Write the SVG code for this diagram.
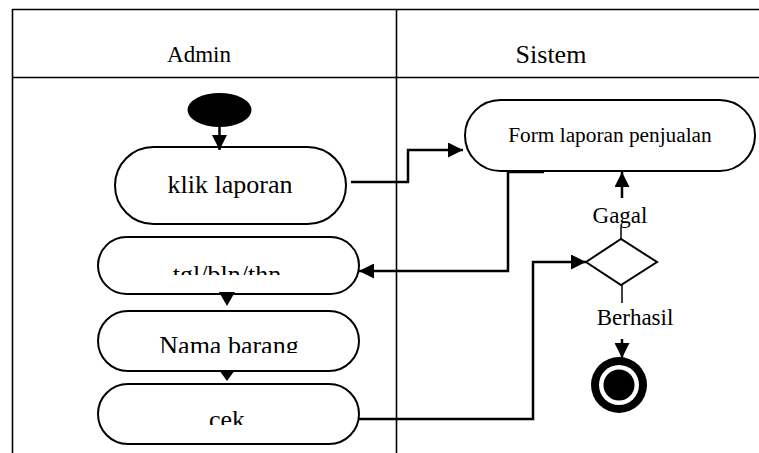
<svg xmlns="http://www.w3.org/2000/svg" width="759" height="453" viewBox="0 0 759 453">
<style>
.frame{stroke:#000;stroke-width:1.6;fill:none}
.box{fill:#fff;stroke:#000;stroke-width:2}
.conn{fill:none;stroke:#000;stroke-width:2.5}
.t{font-family:"Liberation Serif","Times New Roman",serif;fill:#000;text-anchor:middle}
</style>
<defs>
<marker id="arr" viewBox="0 0 10 10" refX="10" refY="5" markerWidth="6" markerHeight="6" markerUnits="strokeWidth" orient="auto">
<path d="M0,0 L10,5 L0,10 z" fill="#000"/>
</marker>
<clipPath id="c1"><rect x="98" y="237" width="261" height="38"/></clipPath>
<clipPath id="c2"><rect x="98" y="311" width="261" height="42"/></clipPath>
<clipPath id="c3"><rect x="98" y="384" width="261" height="41"/></clipPath>
</defs>
<rect width="759" height="453" fill="#fff"/>
<g id="frame">
<line class="frame" x1="12" y1="9.5" x2="759" y2="9.5"/>
<line class="frame" x1="12" y1="77.5" x2="759" y2="77.5"/>
<line class="frame" x1="12.5" y1="9" x2="12.5" y2="453"/>
<line class="frame" x1="396.5" y1="9" x2="396.5" y2="453"/>
<text class="t" x="199" y="62" font-size="23">Admin</text>
<text class="t" x="551" y="63" font-size="26">Sistem</text>
</g>
<g id="start"><ellipse cx="219.5" cy="110" rx="32" ry="17" fill="#000"/></g>
<g id="klik-laporan">
<rect class="box" x="115" y="147" width="231" height="77" rx="38.5"/>
<text class="t" x="230" y="193" font-size="26">klik laporan</text>
</g>
<g id="tgl">
<rect class="box" x="98" y="237" width="261" height="57" rx="28.5"/>
<text class="t" x="227" y="283" font-size="26" clip-path="url(#c1)">tgl/bln/thn</text>
</g>
<g id="nama-barang">
<rect class="box" x="98" y="311" width="261" height="60" rx="30"/>
<text class="t" x="229" y="354" font-size="26" clip-path="url(#c2)">Nama barang</text>
</g>
<g id="cek">
<rect class="box" x="98" y="384" width="261" height="60" rx="30"/>
<text class="t" x="227" y="428" font-size="26" clip-path="url(#c3)">cek</text>
</g>
<g id="form">
<rect class="box" x="465" y="100" width="290" height="71" rx="35.5"/>
<text class="t" x="610" y="142" font-size="21.3">Form laporan penjualan</text>
</g>
<g id="decision">
<polygon points="586,262 621,239 657,262 621,285" fill="#fff" stroke="#000" stroke-width="2"/>
<text class="t" x="620" y="223" font-size="23">Gagal</text>
<text class="t" x="635" y="325" font-size="23">Berhasil</text>
</g>
<g id="end">
<circle cx="619" cy="385" r="28" fill="#000"/>
<circle cx="619" cy="385" r="20" fill="#fff"/>
<circle cx="619" cy="385" r="15.5" fill="#000"/>
</g>
<g id="connectors">
<path class="conn" d="M219.5,127 V150" marker-end="url(#arr)"/>
<path class="conn" d="M351,182 H408 V150 H463" marker-end="url(#arr)"/>
<path class="conn" d="M544,172 H508 V271 H359" marker-end="url(#arr)"/>
<path d="M219,292 H235 L227,306 z" fill="#000"/>
<path d="M219,370 H235 L227,381 z" fill="#000"/>
<path class="conn" d="M359,419 H533 V262 H586" marker-end="url(#arr)"/>
<line x1="621" y1="239" x2="621" y2="227" stroke="#000" stroke-width="1.5"/>
<path class="conn" d="M622,198 V172" marker-end="url(#arr)"/>
<line x1="622" y1="285" x2="622" y2="303" stroke="#000" stroke-width="1.5"/>
<path class="conn" d="M622,339 V358" marker-end="url(#arr)"/>
</g>
</svg>
